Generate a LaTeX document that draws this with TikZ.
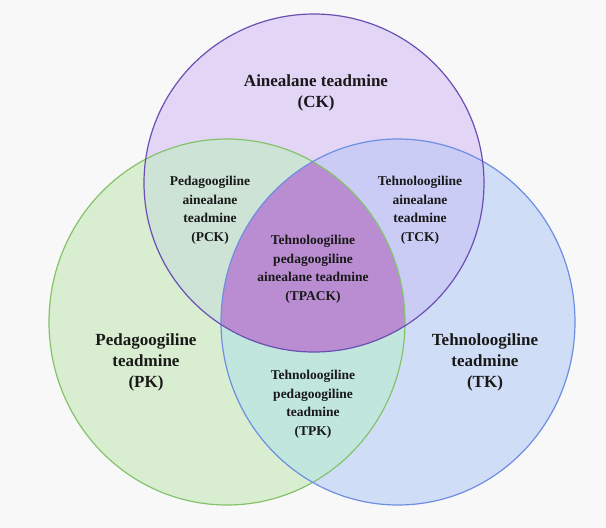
\documentclass[tikz,border=0pt]{standalone}
\usepackage{fontspec}
\setmainfont{Liberation Serif}
\usepackage{tikz}
\usetikzlibrary{positioning}
\definecolor{bgGray}{HTML}{F8F8F8}
\definecolor{ckFill}{HTML}{E3D5F6}
\definecolor{pkFill}{HTML}{D9EDD0}
\definecolor{tkFill}{HTML}{D0DDF7}
\definecolor{pckFill}{HTML}{CDE3D6}
\definecolor{tckFill}{HTML}{CACCF6}
\definecolor{tpkFill}{HTML}{C1E6DD}
\definecolor{tpackFill}{HTML}{BA8DD2}
\definecolor{ckLine}{HTML}{6A50B4}
\definecolor{pkLine}{HTML}{84C36C}
\definecolor{tkLine}{HTML}{6D8EE2}
\tikzstyle{bigLabel} = [align=center, text=black!90,
    font=\fontsize{17}{21}\selectfont\bfseries]
\tikzstyle{smallLabel} = [align=center, text=black!90,
    font=\fontsize{13.5}{18.5}\selectfont\bfseries]
\tikzstyle{ring} = [line width=1.2pt]
\def\ckPath{(314,183) ellipse [x radius=170pt, y radius=169pt]}
\def\pkPath{(227,322) ellipse [x radius=178pt, y radius=183pt]}
\def\tkPath{(398,322) ellipse [x radius=177pt, y radius=183pt]}

\begin{document}
\begin{tikzpicture}[x=1pt, y=-1pt]
        \fill[bgGray] (0,0) rectangle (606,528);
        \useasboundingbox (0,0) rectangle (606,528);
        % the three circles
        \fill[pkFill] \pkPath;
        \fill[tkFill] \tkPath;
        \fill[ckFill] \ckPath;
        % pairwise overlaps
        \begin{scope}
            \clip \ckPath;
            \fill[pckFill] \pkPath;
            \fill[tckFill] \tkPath;
        \end{scope}
        \begin{scope}
            \clip \pkPath;
            \fill[tpkFill] \tkPath;
        \end{scope}
        % centre
        \begin{scope}
            \clip \ckPath;
            \clip \pkPath;
            \fill[tpackFill] \tkPath;
        \end{scope}
        \draw[ring, pkLine] \pkPath;
        \draw[ring, tkLine] \tkPath;
        \draw[ring, ckLine] \ckPath;

        \node[bigLabel, name=ck] at (316,93) (ck) {Ainealane teadmine \\ (CK)};
        \node[bigLabel, name=pk] at (146,362) (pk) {Pedagoogiline \\ teadmine \\ (PK)};
        \node[bigLabel, name=tk] at (485,362) (tk) {Tehnoloogiline \\ teadmine \\ (TK)};
        \node[smallLabel, name=pck] at (210,210) (pck) {Pedagoogiline \\ ainealane \\ teadmine \\ (PCK)};
        \node[smallLabel, name=tck] at (420,210) (tck) {Tehnoloogiline \\ ainealane \\ teadmine \\ (TCK)};
        \node[smallLabel, name=tpack] at (313,269) (tpack) {Tehnoloogiline \\ pedagoogiline \\ ainealane teadmine \\ (TPACK)};
        \node[smallLabel, name=tpk] at (313,404) (tpk) {Tehnoloogiline \\ pedagoogiline \\ teadmine \\ (TPK)};
    \end{tikzpicture}
\end{document}
